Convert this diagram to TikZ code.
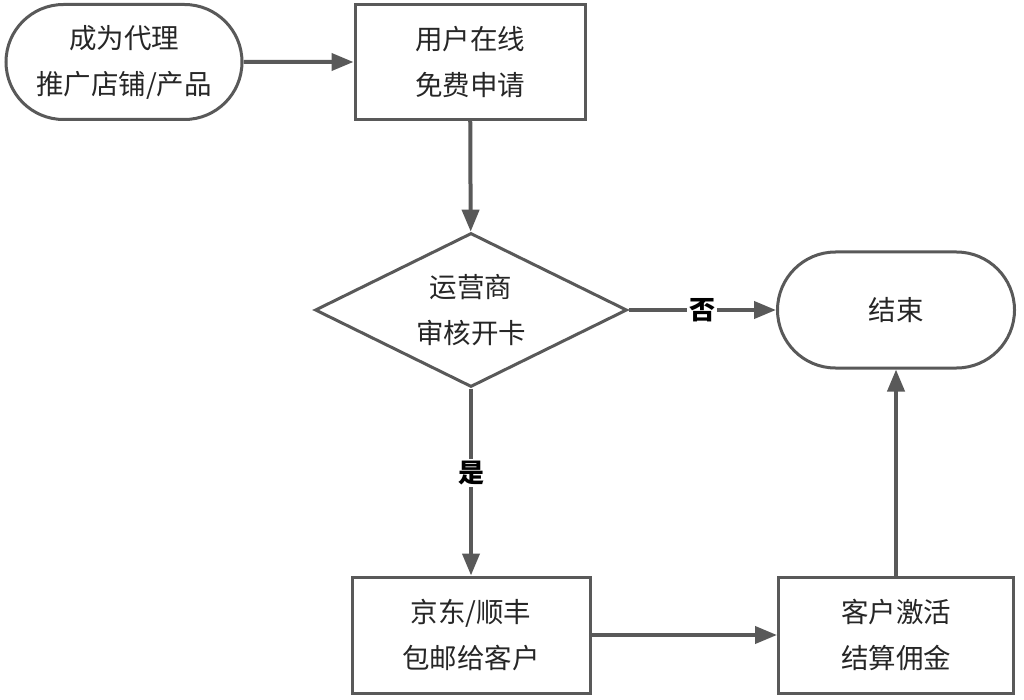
\documentclass[tikz,border=0pt]{standalone}
\usepackage{fontspec}
\newfontfamily\cjk{Noto Sans CJK SC}
\usetikzlibrary{shapes.geometric,shapes.misc,arrows.meta}
\definecolor{ln}{HTML}{595959}
\definecolor{tx}{HTML}{262626}
\tikzset{
  base/.style={draw=ln, line width=3pt, fill=white, text=tx, font=\cjk\fontsize{27.5}{46}\selectfont, align=center, inner sep=0pt},
  term/.style={base, rounded rectangle, minimum width=236pt, minimum height=115pt},
  box/.style={base, rectangle, minimum width=234pt, minimum height=115pt},
  dec/.style={base, diamond, minimum width=312pt, minimum height=154pt, aspect=2},
  conn/.style={draw=ln, line width=4pt, -{Triangle[length=22pt,width=17pt]}},
  lbl/.style={fill=white, text=black, font=\cjk\bfseries\fontsize{26}{30}\selectfont, inner sep=2pt}
}
\begin{document}
\begin{tikzpicture}[x=1pt,y=-1pt]
\useasboundingbox (0,0) rectangle (1024,700);
\node[term] (a) at (124,62) {成为代理\\推广店铺/产品};
\node[box, minimum width=230pt] (b) at (470,62) {用户在线\\免费申请};
\node[dec] (c) at (471,310) {运营商\\审核开卡};
\node[term, minimum width=237pt, minimum height=116pt] (d) at (896,310) {结束};
\node[box, minimum width=238pt, minimum height=116pt] (e) at (471,635) {京东/顺丰\\包邮给客户};
\node[box, minimum width=235pt, minimum height=116pt] (f) at (896,635) {客户激活\\结算佣金};
\draw[conn] (a) -- (b);
\draw[conn] (b) -- (c);
\draw[conn] (c) -- node[lbl]{否} (d);
\draw[conn] (c) -- node[lbl, pos=0.45]{是} (e);
\draw[conn] (e) -- (f);
\draw[conn] (f) -- (d);
\end{tikzpicture}
\end{document}
